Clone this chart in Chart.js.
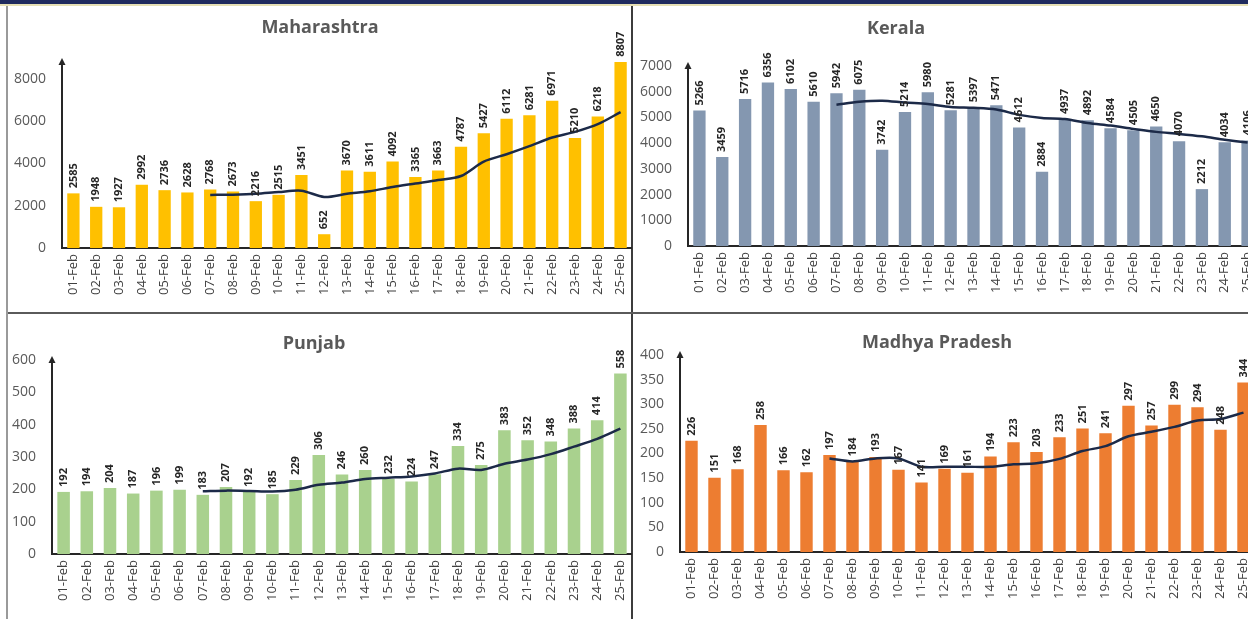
<!DOCTYPE html>
<html>
<head>
<meta charset="utf-8">
<script src="https://cdn.jsdelivr.net/npm/chart.js@4.4.1/dist/chart.umd.min.js"></script>
<style>
  html, body { margin: 0; padding: 0; background: #fff; overflow: hidden; }
  body { width: 1248px; height: 619px; position: relative; }
  .panel { position: absolute; }
  .line { position: absolute; }
</style>
</head>
<body>
<div class="line" style="left:0;top:0;width:1248px;height:4px;background:#1f2a5e"></div>
<div class="line" style="left:0;top:4px;width:1248px;height:2px;background:#e6dfb4"></div>
<div class="line" style="left:6px;top:6px;width:2px;height:613px;background:#9a9a9a"></div>
<div class="line" style="left:631px;top:6px;width:2px;height:613px;background:#3c3c3c"></div>
<div class="line" style="left:8px;top:312px;width:1240px;height:2px;background:#5a5a5a"></div>

<div class="panel" style="left:8px;top:6px;width:624px;height:306px"><canvas id="maha"></canvas></div>
<div class="panel" style="left:633px;top:6px;width:626px;height:306px"><canvas id="kerala"></canvas></div>
<div class="panel" style="left:8px;top:314px;width:624px;height:305px"><canvas id="punjab"></canvas></div>
<div class="panel" style="left:633px;top:314px;width:622px;height:305px"><canvas id="mp"></canvas></div>

<script>
// daily new cases, 01-Feb to 25-Feb, plus the 7 day average line
const dates = ["01-Feb","02-Feb","03-Feb","04-Feb","05-Feb","06-Feb","07-Feb","08-Feb","09-Feb","10-Feb",
  "11-Feb","12-Feb","13-Feb","14-Feb","15-Feb","16-Feb","17-Feb","18-Feb","19-Feb","20-Feb",
  "21-Feb","22-Feb","23-Feb","24-Feb","25-Feb"];

const mahaCases = [2585,1948,1927,2992,2736,2628,2768,2673,2216,2515,3451,652,3670,3611,4092,3365,3663,4787,5427,6112,6281,6971,5210,6218,8807];
const mahaAvg = [null,null,null,null,null,null,2512,2525,2563,2647,2712,2415,2564,2684,2887,3051,3215,3406,4088,4437,4818,5229,5493,5858,6432];
const mahaTicks = [0,2000,4000,6000,8000];

const keralaCases = [5266,3459,5716,6356,6102,5610,5942,6075,3742,5214,5980,5281,5397,5471,4612,2884,4937,4892,4584,4505,4650,4070,2212,4034,4106];
const keralaAvg = [null,null,null,null,null,null,5493,5609,5649,5577,5524,5406,5376,5309,5100,4977,4937,4782,4682,4555,4438,4360,4264,4135,4023];
const keralaTicks = [0,1000,2000,3000,4000,5000,6000,7000];

const punjabCases = [192,194,204,187,196,199,183,207,192,185,229,306,246,260,232,224,247,334,275,383,352,348,388,414,558];
const punjabAvg = [null,null,null,null,null,null,194,196,195,193,199,214,221,232,236,240,249,264,260,279,292,309,332,356,388];
const punjabTicks = [0,100,200,300,400,500,600];

const mpCases = [226,151,168,258,166,162,197,184,193,167,141,169,161,194,223,203,233,251,241,297,257,299,294,248,344];
const mpAvg = [null,null,null,null,null,null,190,184,190,190,173,173,173,173,178,180,189,205,215,235,244,254,267,270,283];
const mpTicks = [0,50,100,150,200,250,300,350,400];

const FONT = "'Open Sans', 'DejaVu Sans', sans-serif";

// draws the value above each bar, the arrow on the y axis and the panel title
const extras = {
  id: "extras",
  afterDatasetsDraw(chart) {
    const ctx = chart.ctx;
    const meta = chart.getDatasetMeta(0);
    ctx.save();
    ctx.fillStyle = "#262626";
    ctx.font = "bold 11px " + FONT;
    ctx.textAlign = "left";
    ctx.textBaseline = "middle";
    meta.data.forEach((bar, i) => {
      ctx.save();
      ctx.translate(bar.x, bar.y - 5);
      ctx.rotate(-Math.PI / 2);
      ctx.fillText(chart.data.datasets[0].data[i], 0, 0);
      ctx.restore();
    });
    // arrow head on top of the y axis
    const a = chart.chartArea;
    ctx.fillStyle = "#262626";
    ctx.beginPath();
    ctx.moveTo(a.left, a.top - 4);
    ctx.lineTo(a.left - 3.5, a.top + 3);
    ctx.lineTo(a.left + 3.5, a.top + 3);
    ctx.closePath();
    ctx.fill();
    ctx.restore();
  },
  afterDraw(chart, args, opts) {
    const ctx = chart.ctx;
    ctx.save();
    ctx.fillStyle = "#595959";
    ctx.font = "bold 18px " + FONT;
    ctx.textAlign = "center";
    ctx.textBaseline = "middle";
    ctx.fillText(opts.text, opts.x, opts.y);
    ctx.restore();
  }
};

function makeChart(id, p) {
  return new Chart(document.getElementById(id), {
    data: {
      labels: dates,
      datasets: [
        {
          type: "bar",
          data: p.cases,
          backgroundColor: p.color,
          barPercentage: 0.54,
          categoryPercentage: 1,
          order: 1
        },
        {
          type: "line",
          data: p.avg,
          borderColor: "#1c2a48",
          borderWidth: 2.5,
          pointRadius: 0,
          tension: 0.3,
          fill: false,
          order: 0
        }
      ]
    },
    options: {
      responsive: true,
      maintainAspectRatio: false,
      animation: false,
      devicePixelRatio: 1,
      layout: { padding: { top: p.top, left: 0, right: 0, bottom: 0 } },
      plugins: {
        legend: { display: false },
        tooltip: { enabled: false },
        extras: { text: p.title, x: p.titleX, y: p.titleY }
      },
      scales: {
        x: {
          grid: { display: false, drawTicks: false },
          border: { display: true, color: "#262626", width: 2 },
          ticks: {
            autoSkip: false, minRotation: 90, maxRotation: 90, padding: 6,
            color: "#404040", font: { family: FONT, size: 13 }
          },
          afterFit: (s) => { s.height = p.xH; s.paddingLeft = 0; s.paddingRight = 0; }
        },
        y: {
          min: 0,
          max: p.max,
          grid: { display: false, drawTicks: false },
          border: { display: true, color: "#262626", width: 2 },
          ticks: {
            padding: 16,
            color: "#595959", font: { family: FONT, size: 14 },
            callback: (v) => String(v)
          },
          afterBuildTicks: (s) => { s.ticks = p.ticks.map(v => ({ value: v })); },
          afterFit: (s) => { s.width = p.yW; s.paddingTop = 0; s.paddingBottom = 0; }
        }
      }
    },
    plugins: [extras]
  });
}

makeChart("maha", { cases: mahaCases, avg: mahaAvg, color: "#ffc000", max: 8800, ticks: mahaTicks,
  title: "Maharashtra", titleX: 312, titleY: 22, top: 56, yW: 54, xH: 64 });
makeChart("kerala", { cases: keralaCases, avg: keralaAvg, color: "#8497b0", max: 7000, ticks: keralaTicks,
  title: "Kerala", titleX: 263, titleY: 23, top: 60, yW: 55, xH: 66 });
makeChart("punjab", { cases: punjabCases, avg: punjabAvg, color: "#a9d18e", max: 600, ticks: punjabTicks,
  title: "Punjab", titleX: 306, titleY: 30, top: 46, yW: 44, xH: 65 });
makeChart("mp", { cases: mpCases, avg: mpAvg, color: "#ed7d31", max: 400, ticks: mpTicks,
  title: "Madhya Pradesh", titleX: 304, titleY: 29, top: 41, yW: 47, xH: 67 });
</script>
</body>
</html>
